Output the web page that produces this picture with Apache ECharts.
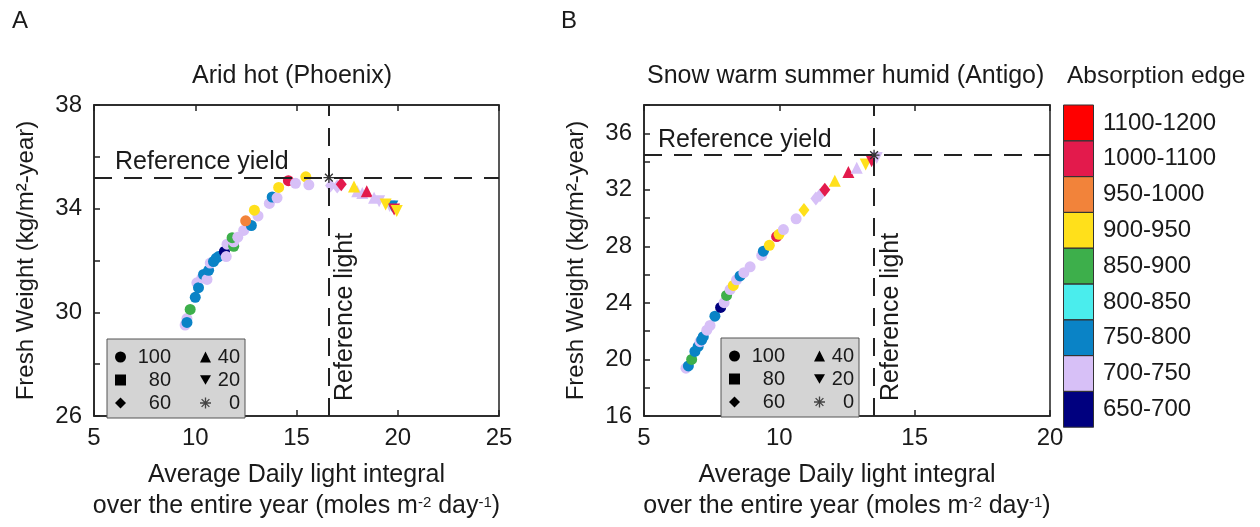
<!DOCTYPE html>
<html><head><meta charset="utf-8">
<script src="https://cdn.jsdelivr.net/npm/echarts@6/dist/echarts.min.js"></script>
<style>html,body{margin:0;padding:0;background:#fff}#c{width:1260px;height:527px}</style>
</head><body><div id="c"></div>
<script>
// ---------- DATA ----------
const edgeLabels = ['1100-1200','1000-1100','950-1000','900-950','850-900','800-850','750-800','700-750','650-700'];
const edgeMin = [1100,1000,950,900,850,800,750,700,650];
const edgeMax = [1200,1100,1000,950,900,850,800,750,700];
const edgeColors = ['#FF0000','#E31A4C','#F2833A','#FFE01B','#3DAF4B','#4AEDED','#0A83C6','#D7C0F7','#00007F'];
const transLabels = ['100','80','60','40','20','0'];

// [light, fresh weight, absorption edge]
const phoenix100 = [[9.50,29.51,725],[9.59,29.76,725],[9.59,29.61,775],[9.75,30.11,875],[10.00,30.58,775],[10.08,31.14,725],[10.16,30.95,775],[10.33,31.33,725],[10.41,31.46,775],[10.58,31.27,725],[10.66,31.62,775],[10.74,31.90,725],[10.90,31.96,775],[11.04,32.09,775],[11.15,32.15,775],[11.44,32.35,675],[11.53,32.15,725],[11.57,32.63,725],[11.90,32.55,875],[11.90,32.72,725],[11.82,32.88,875],[12.10,32.90,725],[12.39,33.16,725],[12.77,33.35,775],[12.49,33.53,975],[13.10,33.72,725],[12.92,33.94,925],[13.66,34.20,725],[13.80,34.45,775],[14.04,34.42,725],[14.12,34.82,925],[14.60,35.08,1050],[14.95,34.98,725],[15.46,35.23,925],[15.61,34.92,725]];
const phoenix80 = [];
const phoenix60 = [[16.68,34.89,725],[17.01,34.86,725],[17.21,34.94,1050]];
const phoenix40 = [[18.00,34.67,725],[18.25,34.60,725],[17.84,34.86,925],[18.47,34.67,1050],[18.83,34.42,725]];
const phoenix20 = [[19.08,34.29,725],[19.60,34.10,725],[19.73,34.08,775],[19.40,34.16,925],[19.82,33.97,1050],[19.95,33.91,925]];
const phoenix0 = [[16.6,35.2]];
const phoenixRefLight = 16.6, phoenixRefYield = 35.2;

const antigo100 = [[6.55,19.38,725],[6.64,19.54,775],[6.76,20.00,875],[6.88,20.57,775],[7.00,20.92,775],[7.07,21.26,725],[7.13,21.38,775],[7.19,21.61,775],[7.32,22.07,725],[7.44,22.41,725],[7.62,23.06,775],[7.83,23.68,675],[7.96,24.02,725],[8.05,24.53,875],[8.18,24.94,725],[8.30,25.24,925],[8.42,25.63,725],[8.55,25.91,775],[8.69,26.14,725],[8.92,26.55,725],[9.35,27.36,725],[9.41,27.66,775],[9.63,28.07,925],[9.90,28.69,1050],[9.99,28.85,925],[10.15,29.19,725],[10.62,29.95,725]];
const antigo80 = [];
const antigo60 = [[10.91,30.57,925],[11.35,31.38,725],[11.50,31.61,725],[11.68,32.00,1050]];
const antigo40 = [[12.05,32.64,925],[12.55,33.26,1050],[12.86,33.56,725]];
const antigo20 = [[13.19,33.79,925],[13.41,34.02,1050],[13.60,34.25,725]];
const antigo0 = [[13.5,34.45]];
const antigoRefLight = 13.5, antigoRefYield = 34.45;

// ---------- STYLE ----------
const FONT = 'Liberation Sans';
const TXT = '#1a1a1a';
const downTri = 'path://M0,0L10,0L5,8.66Z';
const asterisk = 'path://M-0.6,-5L0.6,-5L0.6,5L-0.6,5Z M-5,-0.6L5,-0.6L5,0.6L-5,0.6Z M-3.96,-3.11L-3.11,-3.96L3.96,3.11L3.11,3.96Z M3.11,-3.96L3.96,-3.11L-3.11,3.96L-3.96,3.11Z';
const transSymbols = ['circle','rect','diamond','triangle',downTri,asterisk];
const transSizes = [11,9,[11,14],12,12,11];

const chart = echarts.init(document.getElementById('c'));

function xAxes(grid, min, max, name) {
  const common = {
    gridIndex: grid, type: 'value', min: min, max: max, interval: 5,
    axisLine: {show: true, onZero: false, lineStyle: {color: '#222', width: 1.5}},
    axisTick: {show: true, inside: true, length: 6, lineStyle: {color: '#222', width: 1.5}},
    splitLine: {show: false}
  };
  return [
    Object.assign({}, common, {
      position: 'bottom',
      axisLabel: {fontSize: 24, color: TXT, fontFamily: FONT, margin: 10},
      name: name, nameLocation: 'middle', nameGap: 44,
      nameTextStyle: {fontSize: 25, color: TXT, fontFamily: FONT, lineHeight: 31,
        rich: {sup: {fontSize: 15, color: TXT, fontFamily: FONT, verticalAlign: 'top', lineHeight: 15, padding: [4,0,0,0]}}}
    }),
    Object.assign({}, common, {position: 'top', axisLabel: {show: false}})
  ];
}
function yAxis(grid, min, max) {
  return {
    gridIndex: grid, type: 'value', min: min, max: max, interval: 2,
    axisLine: {show: true, onZero: false, lineStyle: {color: '#222', width: 1.5}},
    axisTick: {show: true, inside: true, length: 6, lineStyle: {color: '#222', width: 1.5}},
    axisLabel: {fontSize: 24, color: TXT, fontFamily: FONT, margin: 12,
      formatter: v => ((v - min) % 4 === 0 ? String(v) : '')},
    splitLine: {show: false},
    name: 'Fresh Weight (kg/m²-year)', nameLocation: 'middle', nameGap: 56,
    nameTextStyle: {fontSize: 24, color: TXT, fontFamily: FONT}
  };
}

const xName = 'Average Daily light integral\nover the entire year (moles m{sup|-2} day{sup|-1})';

function panelSeries(p, sets, refLight, refYield, yieldDist, lightDist) {
  return sets.map((data, i) => {
    const s = {
      name: transLabels[i], type: 'scatter', xAxisIndex: p * 2, yAxisIndex: p,
      symbol: transSymbols[i], symbolSize: transSizes[i], data: data,
      itemStyle: {opacity: 1}, z: 3, silent: true
    };
    if (i === 5) {
      s.itemStyle = {color: '#333', opacity: 1};
      s.z = 4;
      s.markLine = {
        silent: true, symbol: 'none', animation: false,
        lineStyle: {color: '#222', width: 2, type: [18, 12]},
        data: [
          {yAxis: refYield, label: {show: true, formatter: 'Reference yield', position: 'insideStartTop',
            distance: yieldDist, fontSize: 25, color: TXT, fontFamily: FONT}},
          {xAxis: refLight, label: {show: true, formatter: 'Reference light', position: 'insideStartBottom',
            distance: lightDist, fontSize: 25, color: TXT, fontFamily: FONT}}
        ]
      };
    }
    return s;
  });
}

const series = [].concat(
  panelSeries(0, [phoenix100, phoenix80, phoenix60, phoenix40, phoenix20, phoenix0], phoenixRefLight, phoenixRefYield, [21, 3], [15, 4]),
  panelSeries(1, [antigo100, antigo80, antigo60, antigo40, antigo20, antigo0], antigoRefLight, antigoRefYield, [14, 3], [15, 5])
);
const colouredSeries = series.map((s, i) => i).filter(i => i % 6 !== 5);

// inset legend: two columns (two legend components sharing one grey box)
const legendTextStyle = {fontSize: 20, color: TXT, fontFamily: FONT,
  rich: {r: {fontSize: 20, color: TXT, fontFamily: FONT, width: 40, align: 'right'},
         l: {fontSize: 20, color: TXT, fontFamily: FONT, width: 24, align: 'right'}}};
function legendItems(from, to) {
  return transLabels.slice(from, to).map((n, k) => ({name: n, icon: transSymbols[from + k],
    itemStyle: {color: from + k === 5 ? '#444' : '#000'}}));
}
function insetLegends(left, top) {
  return [
    {
      left: left, top: top, orient: 'vertical', z: 4,
      itemGap: 3, itemWidth: 11, itemHeight: 11,
      padding: [8, 74, 5, 8],
      backgroundColor: '#d4d4d4', borderColor: '#555', borderWidth: 1,
      selectedMode: false, textStyle: legendTextStyle,
      formatter: name => '{r|' + name + '}',
      data: legendItems(0, 3)
    },
    {
      left: left + 93, top: top + 8, orient: 'vertical', z: 5,
      itemGap: 3, itemWidth: 11, itemHeight: 11, padding: 0,
      selectedMode: false, textStyle: legendTextStyle,
      formatter: name => '{l|' + name + '}',
      data: legendItems(3, 6)
    }
  ];
}

// colour-bar outlines (decoration around the visualMap pieces)
const barLeft = 1063, barTop = 105, barW = 31, barH = 35.8;
const barOutlines = edgeLabels.map((l, i) => ({
  type: 'rect', z: 100, silent: true,
  shape: {x: barLeft + 0.5, y: barTop + i * barH, width: barW - 1, height: barH},
  style: {fill: null, stroke: '#333', lineWidth: 1}
}));

const titleStyle = {fontSize: 25, color: TXT, fontFamily: FONT, fontWeight: 'normal'};
const option = {
  backgroundColor: '#fff',
  animation: false,
  title: [
    {text: 'A', left: 12, top: 9, padding: 0, textStyle: Object.assign({}, titleStyle, {fontSize: 24})},
    {text: 'B', left: 561, top: 9, padding: 0, textStyle: Object.assign({}, titleStyle, {fontSize: 24})},
    {text: 'Arid hot (Phoenix)', left: 192, top: 64, padding: 0, textStyle: titleStyle},
    {text: 'Snow warm summer humid (Antigo)', left: 647, top: 64, padding: 0, textStyle: titleStyle},
    {text: 'Absorption edge', left: 1067, top: 64, padding: 0, textStyle: Object.assign({}, titleStyle, {fontSize: 24.5})}
  ],
  grid: [
    {left: 94, top: 105, width: 405, height: 318, show: true, borderColor: '#222', borderWidth: 1.5, containLabel: false},
    {left: 644, top: 105, width: 406, height: 318, show: true, borderColor: '#222', borderWidth: 1.5, containLabel: false}
  ],
  xAxis: [].concat(xAxes(0, 5, 25, xName), xAxes(1, 5, 20, xName)),
  yAxis: [yAxis(0, 26, 38), yAxis(1, 16, 38)],
  legend: [].concat(insetLegends(107, 339), insetLegends(721, 338)),
  visualMap: {
    type: 'piecewise', dimension: 2, seriesIndex: colouredSeries,
    left: barLeft, top: barTop, padding: 0, orient: 'vertical', align: 'left',
    itemWidth: barW, itemHeight: barH, itemGap: 0, itemSymbol: 'rect', textGap: 9,
    hoverLink: false, selectedMode: false,
    textStyle: {fontSize: 24, color: TXT, fontFamily: FONT},
    pieces: edgeLabels.map((l, i) => ({min: edgeMin[i], max: edgeMax[i], label: l, color: edgeColors[i]}))
  },
  graphic: barOutlines,
  series: series
};
chart.setOption(option);
</script>
</body></html>
